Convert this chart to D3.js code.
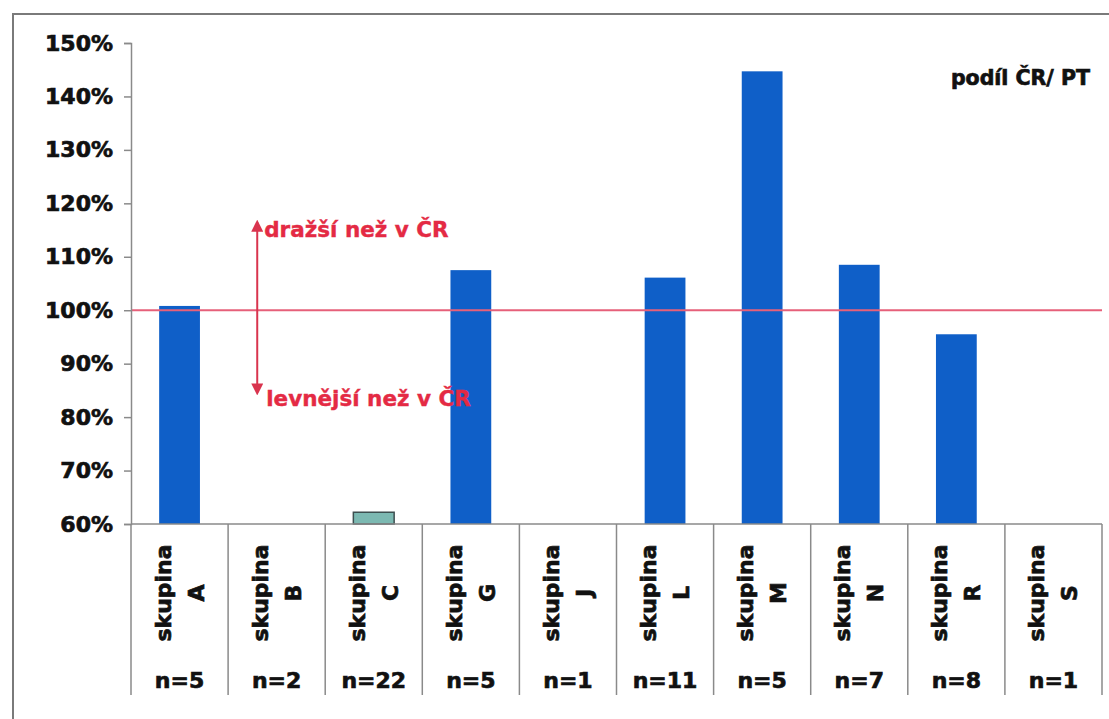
<!DOCTYPE html>
<html>
<head>
<meta charset="utf-8">
<script src="https://cdn.jsdelivr.net/npm/d3@7"></script>
<style>
  html, body { margin: 0; padding: 0; background: #fff; }
  svg { display: block; font-family: "DejaVu Sans", Verdana, sans-serif; }
  .heavy { font-weight: bold; fill: #111; stroke: #111; stroke-width: 0.7px; }
  .note  { font-weight: bold; fill: #e42a44; stroke: #e42a44; stroke-width: 0.4px; }
</style>
</head>
<body>
<svg id="chart" width="1109" height="719"></svg>
<script>
// Groups, sample sizes and the price ratio CZ / PT for each group
const groups  = ["A", "B", "C", "G", "J", "L", "M", "N", "R", "S"];
const counts  = [5, 2, 22, 5, 1, 11, 5, 7, 8, 1];
const ratios  = [1.008, null, 0.622, 1.075, null, 1.061, 1.447, 1.085, 0.955, null];
const yTicks  = [0.6, 0.7, 0.8, 0.9, 1.0, 1.1, 1.2, 1.3, 1.4, 1.5];
const refLine = 1.0;
const arrowRange = [1.165, 0.845];          // double arrow: from "dearer" to "cheaper"
const noteUp   = "dražší než v ČR";
const noteDown = "levnější než v ČR";
const cornerLabel = "podíl ČR/ PT";

const svg = d3.select("#chart");
const W = 1109, H = 719;
const plot = { left: 131, right: 1102, top: 43, bottom: 524 };
const tableBottom = 695;

const x = d3.scaleBand().domain(groups).range([plot.left, plot.right]).padding(0);
const y = d3.scaleLinear().domain([0.6, 1.5]).range([plot.bottom, plot.top]);

// outer frame (top and left edges)
svg.append("path")
  .attr("d", `M13,${H} L13,14 L${W},14`)
  .attr("fill", "none").attr("stroke", "#7a7a7a").attr("stroke-width", 2);

// bars
const barW = x.bandwidth() * 0.42;
const data = groups.map((g, i) => ({ g, n: counts[i], v: ratios[i] }));
svg.append("g").selectAll("rect")
  .data(data.filter(d => d.v != null))
  .join("rect")
  .attr("x", d => x(d.g) + (x.bandwidth() - barW) / 2)
  .attr("width", barW)
  .attr("y", d => y(d.v))
  .attr("height", d => y(0.6) - y(d.v))
  .attr("fill", d => d.g === "C" ? "#7cb9b2" : "#0f5fc8")
  .attr("stroke", d => d.g === "C" ? "#3d4f50" : "none")
  .attr("stroke-width", 1.5);

// reference line at 100 %
svg.append("line")
  .attr("x1", plot.left).attr("x2", plot.right)
  .attr("y1", y(refLine)).attr("y2", y(refLine))
  .attr("stroke", "#e6607a").attr("stroke-width", 2);

// y axis
const yAxis = d3.axisLeft(y).tickValues(yTicks)
  .tickFormat(d3.format(".0%")).tickSize(7).tickPadding(11);
const ya = svg.append("g").attr("transform", `translate(${plot.left},0)`).call(yAxis);
ya.select(".domain").attr("stroke", "#8a8a8a").attr("stroke-width", 1.5);
ya.selectAll(".tick line").attr("stroke", "#8a8a8a").attr("stroke-width", 1.5);
ya.selectAll(".tick text")
  .attr("class", "heavy")
  .attr("font-size", 22)
  .attr("font-family", "'DejaVu Sans', Verdana, sans-serif");

// category baseline and table grid
svg.append("line")
  .attr("x1", plot.left).attr("x2", plot.right)
  .attr("y1", plot.bottom).attr("y2", plot.bottom)
  .attr("stroke", "#8a8a8a").attr("stroke-width", 1.5);
const edges = groups.map(g => x(g)).concat([x.range()[1]]);
svg.append("g").selectAll("line")
  .data(edges).join("line")
  .attr("x1", d => d).attr("x2", d => d)
  .attr("y1", plot.bottom).attr("y2", tableBottom)
  .attr("stroke", "#8a8a8a").attr("stroke-width", 1.5);

// rotated category labels
const cat = svg.append("g").selectAll("g")
  .data(data).join("g")
  .attr("transform", d => `translate(${x(d.g) + x.bandwidth() / 2},593) rotate(-90)`);
cat.append("text")
  .attr("class", "heavy")
  .attr("text-anchor", "middle").attr("y", -9)
  .attr("font-size", 22)
  .text("skupina");
cat.append("text")
  .attr("class", "heavy")
  .attr("text-anchor", "middle").attr("y", 24)
  .attr("font-size", 22)
  .text(d => d.g);

// sample sizes
svg.append("g").selectAll("text")
  .data(data).join("text")
  .attr("class", "heavy")
  .attr("x", d => x(d.g) + x.bandwidth() / 2)
  .attr("y", 688)
  .attr("text-anchor", "middle")
  .attr("font-size", 22)
  .text(d => "n=" + d.n);

// double-headed arrow with notes
const defs = svg.append("defs");
defs.append("marker")
  .attr("id", "head").attr("viewBox", "0 0 10 10")
  .attr("refX", 8).attr("refY", 5)
  .attr("markerWidth", 6).attr("markerHeight", 6)
  .attr("orient", "auto-start-reverse")
  .append("path").attr("d", "M0,0 L10,5 L0,10 Z").attr("fill", "#d9344e");

const ax = x("B") + x.bandwidth() * 0.3;
svg.append("line")
  .attr("x1", ax).attr("x2", ax)
  .attr("y1", y(arrowRange[0])).attr("y2", y(arrowRange[1]))
  .attr("stroke", "#d9344e").attr("stroke-width", 2)
  .attr("marker-start", "url(#head)").attr("marker-end", "url(#head)");

svg.append("text")
  .attr("class", "note")
  .attr("x", ax + 7).attr("y", y(arrowRange[0]) + 15)
  .attr("font-size", 21.5)
  .text(noteUp);
svg.append("text")
  .attr("class", "note")
  .attr("x", ax + 9).attr("y", y(arrowRange[1]) + 13)
  .attr("font-size", 21.5)
  .text(noteDown);

// corner label
svg.append("text")
  .attr("class", "heavy")
  .attr("x", 1090).attr("y", 85)
  .attr("text-anchor", "end")
  .attr("font-size", 20.5)
  .attr("stroke-width", 0.5)
  .text(cornerLabel);
</script>
</body>
</html>
